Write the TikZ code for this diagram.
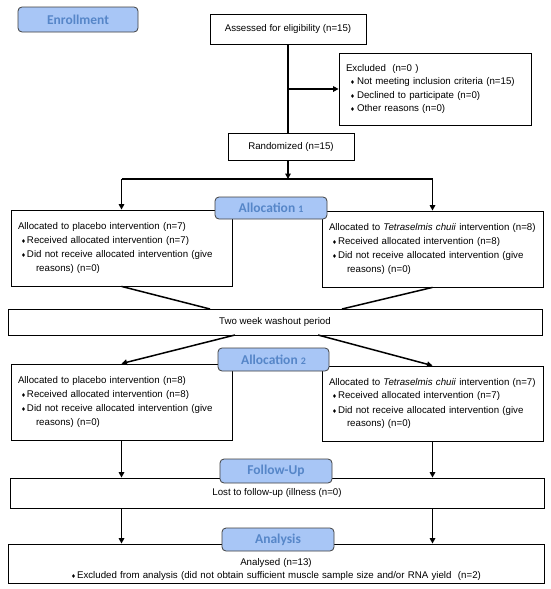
\documentclass[tikz,border=0pt]{standalone}
\usepackage{fontspec}
\setmainfont{Liberation Sans}
\newfontfamily\hdrfont{Carlito}
\newfontfamily\symfont{DejaVu Sans}
\usetikzlibrary{arrows.meta,calc}
\definecolor{hdrfill}{RGB}{168,198,246}
\definecolor{hdrtext}{RGB}{86,134,200}
\newcommand\bul[2]{\hspace*{#1pt}\makebox[#2pt][l]{\symfont\fontsize{5.5}{5}\selectfont ♦}}
\begin{document}
\begin{tikzpicture}[x=1pt,y=-1pt,
  box/.style={draw, line width=0.8pt, fill=white, inner sep=0pt, font=\fontsize{9.7}{13.6}\selectfont},
  hdr/.style={draw=black!75, line width=0.8pt, fill=hdrfill, rounded corners=4pt, text=hdrtext, inner sep=0pt, font=\hdrfont\bfseries\fontsize{13.5}{13.5}\selectfont},
  conn/.style={line width=1.5pt},
  arr/.style={conn, -{Triangle[length=5.5pt,width=5.5pt]}}]
\useasboundingbox (0,0) rectangle (550,589);
\fill[white] (0,0) rectangle (550,589);

% main boxes
\node[box, minimum width=156, minimum height=30] (assess) at (288,29) {Assessed for eligibility (n=15)};
\node[box, text width=178, minimum height=72, inner xsep=7, align=left] (excl) at (435,89)
  {Excluded~~(n=0 )\\ \bul{4}{7}Not meeting inclusion criteria (n=15)\\ \bul{4}{7}Declined to participate (n=0)\\ \bul{4}{7}Other reasons (n=0)};
\node[box, minimum width=126, minimum height=27] (rand) at (291,146.5) {Randomized (n=15)};

\node[box, text width=207, minimum height=76, inner xsep=7, align=left] (a1L) at (121.5,248)
  {Allocated to placebo intervention (n=7)\\ \bul{3}{6}Received allocated intervention (n=7)\\[1pt] \bul{3}{6}Did not receive allocated intervention (give\\ \hspace*{18pt}reasons) (n=0)};
\node[box, text width=207, minimum height=76, inner xsep=7, align=left] (a1R) at (432.5,249)
  {Allocated to \textit{Tetraselmis chuii} intervention (n=8)\\ \bul{3}{6}Received allocated intervention (n=8)\\[1pt] \bul{3}{6}Did not receive allocated intervention (give\\ \hspace*{18pt}reasons) (n=0)};

\node[box, minimum width=534, minimum height=26] (wash) at (275,322) {Two week washout period};

\node[box, text width=207, minimum height=76, inner xsep=7, align=left] (a2L) at (121.5,402)
  {Allocated to placebo intervention (n=8)\\ \bul{3}{6}Received allocated intervention (n=8)\\[1pt] \bul{3}{6}Did not receive allocated intervention (give\\ \hspace*{18pt}reasons) (n=0)};
\node[box, text width=207, minimum height=75, inner xsep=7, align=left] (a2R) at (432.5,403.5)
  {Allocated to \textit{Tetraselmis chuii} intervention (n=7)\\ \bul{3}{6}Received allocated intervention (n=7)\\[1pt] \bul{3}{6}Did not receive allocated intervention (give\\ \hspace*{18pt}reasons) (n=0)};

\node[box, minimum width=534, minimum height=30] (fu) at (277,493) {Lost to follow-up (illness (n=0)};
\node[box, text width=520, minimum height=39, inner xsep=8, align=center] (an) at (276,563.5)
  {\rule{0pt}{19pt}Analysed (n=13)\\ \bul{0}{6}Excluded from analysis (did not obtain sufficient muscle sample size and/or RNA yield~~(n=2)};

% connector helper points
\coordinate (splitL) at (121.5,179);
\coordinate (splitR) at (432.5,179);
\coordinate (w1) at (210,309);
\coordinate (w2) at (342,309);
\coordinate (w3) at (235,335);
\coordinate (w4) at (318,335);

% connectors
\draw[conn] (assess.south) -- (assess.south |- rand.north);
\draw[arr] (assess.south |- excl.west) -- (excl.west);
\draw[arr] (assess.south |- rand.south) -- (assess.south |- splitL);
\draw[conn] (splitL) -- (splitR);
\draw[arr] (splitL) -- (a1L.north);
\draw[arr] (splitR) -- (a1R.north);
\draw[conn] (a1L.south) -- (w1);
\draw[conn] (a1R.south) -- (w2);
\draw[arr] (w3) -- (a2L.north);
\draw[arr] (w4) -- (a2R.north);
\draw[arr] (a2L.south) -- (a2L.south |- fu.north);
\draw[arr] (a2R.south) -- (a2R.south |- fu.north);
\draw[arr] (a2L.south |- fu.south) -- (a2L.south |- an.north);
\draw[arr] (a2R.south |- fu.south) -- (a2R.south |- an.north);

% stage headers
\node[hdr, minimum width=120, minimum height=25] (enroll) at (78,19.5) {Enrollment};
\node[hdr, minimum width=112, minimum height=22] (alloc1) at (271,208) {Allocation {\fontsize{10}{10}\selectfont 1}};
\node[hdr, minimum width=111, minimum height=23] (alloc2) at (273.5,359.5) {Allocation {\fontsize{10}{10}\selectfont 2}};
\node[hdr, minimum width=112, minimum height=24] (fuh) at (276,471) {Follow-Up};
\node[hdr, minimum width=112, minimum height=23] (anh) at (278,539.5) {Analysis};
\end{tikzpicture}
\end{document}
